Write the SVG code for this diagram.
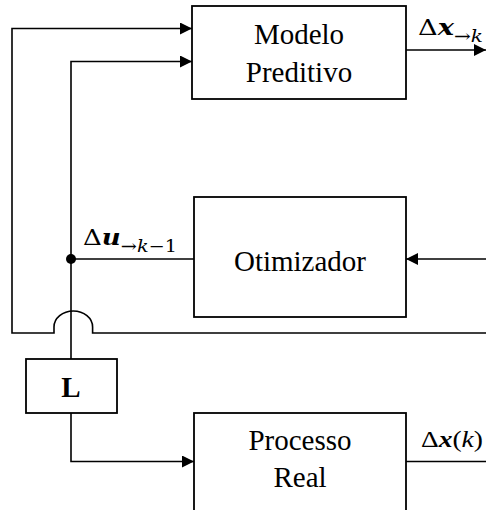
<svg xmlns="http://www.w3.org/2000/svg" width="486" height="510" viewBox="0 0 486 510">
<style>
.box{fill:#fff;stroke:#000;stroke-width:1.8}
.ln{fill:none;stroke:#000;stroke-width:1.6}
.lbl{font-family:"Liberation Serif","Times New Roman",serif;font-size:29px;fill:#000;text-anchor:middle}
.math{font-family:"DejaVu Serif","Liberation Serif",serif;fill:#000}
.tm{font-family:"Liberation Serif","Times New Roman",serif;fill:#000}
.bi{font-weight:bold;font-style:italic}
.it{font-style:italic}
</style>
<defs>
<marker id="arr" markerUnits="userSpaceOnUse" markerWidth="13" markerHeight="13" refX="12" refY="6" orient="auto">
<path d="M0,0 L12,6 L0,12 z" fill="#000"/>
</marker>
</defs>
<g id="connectors">
<path class="ln" d="M486,333 H92.6 V327 A19.3 16 0 0 0 54,327 V333 H12 V28.5 H192" marker-end="url(#arr)"/>
<path class="ln" d="M71,259 V61.5 H192" marker-end="url(#arr)"/>
<path class="ln" d="M71,259 H194"/>
<path class="ln" d="M71,259 V359"/>
<path class="ln" d="M71,413 V461.5 H194" marker-end="url(#arr)"/>
<path class="ln" d="M486,259 H406" marker-end="url(#arr)"/>
<path class="ln" d="M406,50 H486" marker-end="url(#arr)"/>
<path class="ln" d="M406,461.5 H486"/>
<circle cx="71" cy="259" r="5" fill="#000"/>
<text class="math" x="418" y="35" font-size="23" textLength="65" lengthAdjust="spacingAndGlyphs">Δ<tspan class="bi">x</tspan><tspan font-size="17" dy="7">→<tspan class="it">k</tspan></tspan></text>
<text class="math" x="83" y="245" font-size="23" textLength="94" lengthAdjust="spacingAndGlyphs">Δ<tspan class="bi">u</tspan><tspan font-size="17" dy="7">→<tspan class="it">k</tspan>−1</tspan></text>
<text class="tm" x="421" y="446.5" font-size="24" textLength="62" lengthAdjust="spacingAndGlyphs">Δ<tspan class="bi">x</tspan>(<tspan class="it">k</tspan>)</text>
</g>
<g id="modelo">
<rect class="box" x="192" y="6" width="214" height="93"/>
<text class="lbl" x="299" y="43.5">Modelo</text>
<text class="lbl" x="299" y="81.5">Preditivo</text>
</g>
<g id="otimizador">
<rect class="box" x="194" y="197" width="212" height="120"/>
<text class="lbl" x="300" y="270.5">Otimizador</text>
</g>
<g id="L">
<rect class="box" x="26" y="359" width="91" height="54"/>
<text class="lbl" x="71" y="397" font-weight="bold" font-size="28">L</text>
</g>
<g id="processo">
<rect class="box" x="194" y="413" width="212" height="110"/>
<text class="lbl" x="300" y="450">Processo</text>
<text class="lbl" x="300" y="487">Real</text>
</g>
</svg>
